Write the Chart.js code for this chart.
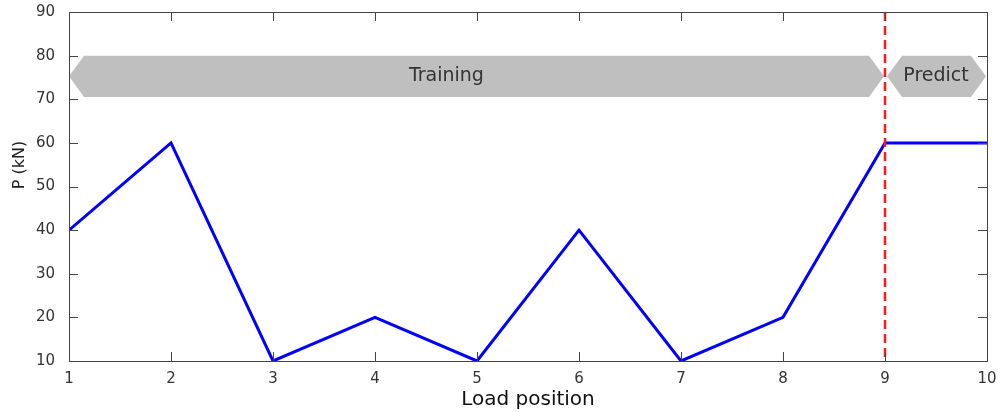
<!DOCTYPE html>
<html>
<head>
<meta charset="utf-8">
<script src="https://cdn.jsdelivr.net/npm/chart.js@4/dist/chart.umd.min.js"></script>
<style>
  html, body { margin: 0; padding: 0; background: #fff; }
  #wrap { width: 998px; height: 412px; }
</style>
</head>
<body>
<div id="wrap"><canvas id="chart"></canvas></div>
<script>
// data
const loadPositions = [1, 2, 3, 4, 5, 6, 7, 8, 9, 10];
const loadValues = [40, 60, 10, 20, 10, 40, 10, 20, 60, 60];
const xTicks = [1, 2, 3, 4, 5, 6, 7, 8, 9, 10];
const yTicks = [10, 20, 30, 40, 50, 60, 70, 80, 90];
const phaseNames = ['Training', 'Predict'];
const phaseFrom = [1, 9.02];
const phaseTo = [8.99, 9.99];
const phaseLabelAt = [4.7, 9.5];
const splitAt = 9;

const fontFamily = '"DejaVu Sans", sans-serif';

// frame, inward ticks, phase arrows, split line
const decorations = {
    id: 'decorations',
    beforeDatasetsDraw(chart) {
        const { ctx, scales: { x, y } } = chart;
        ctx.save();
        // phase arrows
        const yTop = y.getPixelForValue(80);
        const yBot = y.getPixelForValue(70.5);
        const yMid = (yTop + yBot) / 2;
        const tip = 15;
        phaseNames.forEach((name, i) => {
            const x0 = x.getPixelForValue(phaseFrom[i]);
            const x1 = x.getPixelForValue(phaseTo[i]);
            ctx.beginPath();
            ctx.moveTo(x0, yMid);
            ctx.lineTo(x0 + tip, yTop);
            ctx.lineTo(x1 - tip, yTop);
            ctx.lineTo(x1, yMid);
            ctx.lineTo(x1 - tip, yBot);
            ctx.lineTo(x0 + tip, yBot);
            ctx.closePath();
            ctx.fillStyle = '#bfbfbf';
            ctx.fill();
            ctx.fillStyle = '#333';
            ctx.font = '19px ' + fontFamily;
            ctx.textAlign = 'center';
            ctx.textBaseline = 'middle';
            ctx.fillText(name, x.getPixelForValue(phaseLabelAt[i]), yMid);
        });
        ctx.restore();
    },
    afterDraw(chart) {
        const { ctx, chartArea: a, scales: { x, y } } = chart;
        ctx.save();
        // split line
        const xs = x.getPixelForValue(splitAt);
        ctx.strokeStyle = '#ff1a1a';
        ctx.lineWidth = 2.5;
        ctx.setLineDash([9, 5]);
        ctx.beginPath();
        ctx.moveTo(xs, a.top);
        ctx.lineTo(xs, a.bottom);
        ctx.stroke();
        ctx.setLineDash([]);
        // frame
        ctx.strokeStyle = '#444';
        ctx.lineWidth = 1;
        ctx.strokeRect(Math.round(a.left) + 0.5, Math.round(a.top) + 0.5,
            Math.round(a.right - a.left), Math.round(a.bottom - a.top));
        const len = 9;
        ctx.beginPath();
        xTicks.forEach(v => {
            const px = Math.round(x.getPixelForValue(v)) + 0.5;
            ctx.moveTo(px, a.bottom);
            ctx.lineTo(px, a.bottom - len);
            ctx.moveTo(px, a.top);
            ctx.lineTo(px, a.top + len);
        });
        yTicks.forEach(v => {
            const py = Math.round(y.getPixelForValue(v)) + 0.5;
            ctx.moveTo(a.left, py);
            ctx.lineTo(a.left + len, py);
            ctx.moveTo(a.right, py);
            ctx.lineTo(a.right - len, py);
        });
        ctx.stroke();
        // y title
        ctx.fillStyle = '#222';
        ctx.font = '16px ' + fontFamily;
        ctx.textAlign = 'center';
        ctx.textBaseline = 'middle';
        ctx.translate(20, 165);
        ctx.rotate(-Math.PI / 2);
        ctx.fillText('P (kN)', 0, 0);
        ctx.restore();
    }
};

new Chart(document.getElementById('chart'), {
    type: 'line',
    data: {
        datasets: [{
            data: loadPositions.map((p, i) => ({ x: p, y: loadValues[i] })),
            borderColor: '#0000ff',
            borderWidth: 3,
            pointRadius: 0,
            tension: 0,
            fill: false
        }]
    },
    options: {
        responsive: true,
        maintainAspectRatio: false,
        animation: false,
        layout: { padding: { top: 12, right: 11, left: 0, bottom: 0 } },
        plugins: { legend: { display: false }, tooltip: { enabled: false } },
        scales: {
            x: {
                type: 'linear',
                min: 1,
                max: 10,
                afterBuildTicks: s => { s.ticks = xTicks.map(v => ({ value: v })); },
                afterFit: s => { s.height = 51; s.paddingLeft = 0; s.paddingRight = 0; },
                grid: { display: false },
                border: { display: false },
                ticks: { color: '#333', font: { family: fontFamily, size: 15 }, padding: 1, maxRotation: 0 },
                title: { display: true, text: 'Load position', color: '#111', font: { family: fontFamily, size: 20 }, padding: { top: 0, bottom: 0 } }
            },
            y: {
                min: 10,
                max: 90,
                afterBuildTicks: s => { s.ticks = yTicks.map(v => ({ value: v })); },
                afterFit: s => { s.width = 69; s.paddingTop = 0; s.paddingBottom = 0; },
                grid: { display: false },
                border: { display: false },
                ticks: { color: '#333', font: { family: fontFamily, size: 15 }, padding: 6 }
            }
        }
    },
    plugins: [decorations]
});
</script>
</body>
</html>
